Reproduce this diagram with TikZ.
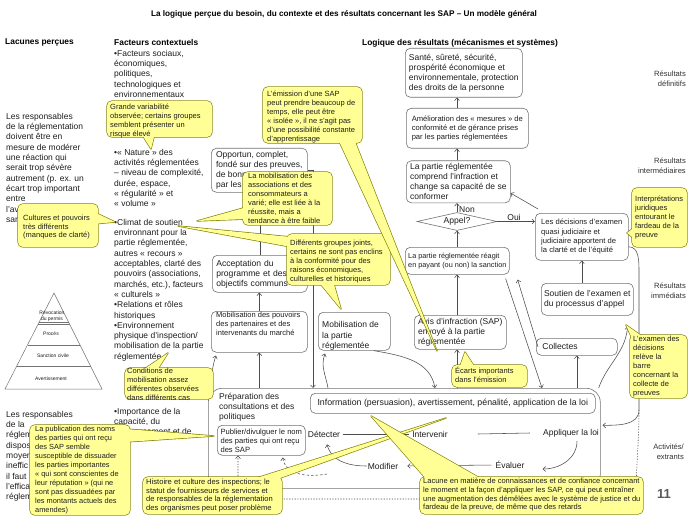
\documentclass[tikz,border=0pt]{standalone}
\usepackage{fontspec}
\setmainfont{Liberation Sans}
\usetikzlibrary{arrows.meta,shapes.geometric,calc}
\definecolor{cyel}{RGB}{255,255,150}
\definecolor{cedge}{RGB}{128,128,0}
\definecolor{bline}{RGB}{115,115,115}
\definecolor{txtc}{RGB}{30,30,30}
\newcommand\myfs[2]{\fontsize{#1}{#2}\selectfont}
\newcommand\callshape[2]{%
  \path[cborder] #1; \path[cborder,sharp corners] #2;
  \path[cfill] #1; \path[cfill,sharp corners] #2;}
\tikzset{
  lbl/.style={inner sep=0pt, anchor=north west, align=left, text=txtc},
  body/.style={lbl, font=\myfs{8.5}{10.3}},
  ctxt/.style={lbl, font=\myfs{7.5}{9}},
  hdr/.style={inner sep=0pt, anchor=west, font=\bfseries\myfs{8.4}{10}, text=black},
  sidelbl/.style={inner sep=0pt, anchor=north east, align=right, font=\myfs{7.6}{9.5}, text=black!80},
  bx/.style={draw=bline, line width=0.6pt, rounded corners=5pt, fill=white, anchor=north west, inner xsep=2pt, inner ysep=0pt, align=left, text=txtc},
  act/.style={inner sep=1pt, font=\myfs{8.5}{10}, text=txtc},
  arr/.style={draw=black!70, line width=0.55pt, -{Straight Barb[length=2.6pt,width=4.8pt]}},
  plainln/.style={draw=black!70, line width=0.55pt},
  dasharr/.style={arr, dash pattern=on 2.5pt off 2pt},
  dotarr/.style={arr, dash pattern=on 1.2pt off 1.5pt},
  cborder/.style={draw=cedge, line width=1.3pt, rounded corners=5pt, line join=round},
  cfill/.style={fill=cyel, rounded corners=5pt},
  pyr/.style={font=\myfs{5}{6}, inner sep=0pt, align=center, text=txtc},
}
\begin{document}
\begin{tikzpicture}[x=1pt,y=-1pt]
\useasboundingbox (0,0) rectangle (688,516);
\fill[white] (0,0) rectangle (688,516);

% ---------- titles ----------
\node[inner sep=0pt, font=\bfseries\myfs{8.2}{10}] (title) at (344,14) {La logique perçue du besoin, du contexte et des résultats concernant les SAP – Un modèle général};
\node[hdr] (hlac) at (5,42) {Lacunes perçues};
\node[hdr] (hfac) at (114,42) {Facteurs contextuels};
\node[hdr] (hlog) at (362,43) {Logique des résultats (mécanismes et systèmes)};

% ---------- side labels ----------
\node[sidelbl] (rdef) at (686,71) {Résultats\\définitifs};
\node[sidelbl] (rint) at (686,158) {Résultats\\intermédiaires};
\node[sidelbl] (rimm) at (686,283) {Résultats\\immédiats};
\node[sidelbl] (ract) at (684,444) {Activités/\\extrants};
\node[inner sep=0pt, font=\bfseries\myfs{13}{13}, text=black!65] (pnum) at (664,494) {11};

% ---------- left column ----------
\node[body] (lt1) at (6,113) {Les responsables\\de la réglementation\\doivent être en\\mesure de modérer\\une réaction qui\\serait trop sévère\\autrement (p. ex. un\\écart trop important\\entre\\l'av\\san};
\node[body] (lt2) at (6,411) {Les responsables\\de la\\réglem\\dispos\\moyen\\ineffic\\il faut\\l'effica\\réglem};

% pyramid
\draw[bline, line width=0.5pt] (54,293) -- (102,389) -- (5,389) -- cycle;
\draw[bline, line width=0.5pt] (39.2,322) -- (68.5,322) (37.9,324.5) -- (69.8,324.5) (27.5,345) -- (80,345) (16.7,366) -- (90.5,366);
\node[pyr] (pyr1) at (52,316) {Révocation\\du permis};
\node[pyr] (pyr2) at (51,333.5) {Procès};
\node[pyr] (pyr3) at (53,356) {Sanction civile};
\node[pyr] (pyr4) at (51,378.5) {Avertissement};

% ---------- context column ----------
\node[body] (fc1) at (114,50) {•Facteurs sociaux,\\économiques,\\politiques,\\technologiques et\\environnementaux};
\node[body] (fc2) at (114,149) {•« Nature » des\\activités réglementées\\– niveau de complexité,\\durée, espace,\\« régularité » et\\« volume »};
\node[body] (fc3) at (114,219) {•Climat de soutien\\environnant pour la\\partie réglementée,\\autres « recours »\\acceptables, clarté des\\pouvoirs (associations,\\marchés, etc.), facteurs\\« culturels »\\•Relations et rôles\\historiques\\•Environnement\\physique d'inspection/\\mobilisation de la partie\\réglementée};
\node[body] (fc4) at (114,408) {•Importance de la\\capacité, du\\ressourcement et de};

% ---------- middle boxes ----------
\node[bx, minimum width=96pt, minimum height=44pt, font=\myfs{8.5}{10}] (opport) at (211,148) {Opportun, complet,\\fondé sur des preuves,\\de bonne\\par les};
\node[bx, minimum width=95pt, minimum height=37pt, inner xsep=4pt, text width=87pt, font=\myfs{8.6}{10}] (accept) at (212,255) {Acceptation du\\programme et des\\objectifs communs};
\node[bx, minimum width=96pt, minimum height=41pt] (mobpouv) at (211,311) {};
\node[lbl, font=\myfs{7.5}{9}] (mobpouvt) at (216,312) {Mobilisation des pouvoirs\\des partenaires et des\\intervenants du marché};
\node[bx, minimum width=72pt, minimum height=38pt] (mobpart) at (318,312) {};
\node[lbl, font=\myfs{8.5}{10.5}] (mobpartt) at (322,321.5) {Mobilisation de\\la partie\\réglementée};

% ---------- right column boxes ----------
\node[bx, minimum width=117pt, minimum height=49pt, font=\myfs{8.5}{10}] (sante) at (405,48) {Santé, sûreté, sécurité,\\prospérité économique et\\environnementale, protection\\des droits de la personne};
\node[bx, minimum width=122pt, minimum height=40pt, font=\myfs{7.6}{9}] (amelio) at (406,108) {Amélioration des « mesures » de\\conformité et de gérance prises\\par les parties réglementées};
\node[bx, minimum width=104pt, minimum height=42pt, font=\myfs{8.5}{10}] (partie) at (406,160.5) {La partie réglementée\\comprend l'infraction et\\change sa capacité de se\\conformer};
\node[diamond, draw=bline, line width=0.6pt, fill=white, aspect=4.7, minimum width=80pt, minimum height=18pt, inner sep=0pt, font=\myfs{8.6}{10}, text=txtc] (appel) at (457,221.5) {Appel?};
\node[bx, minimum width=93pt, minimum height=47pt, font=\myfs{7.6}{9.3}] (decis) at (535,213) {Les décisions d'examen\\quasi judiciaire et\\judiciaire apportent de\\la clarté et de l'équité};
\node[bx, minimum width=104pt, minimum height=27pt, font=\myfs{7.3}{8.6}] (reagit) at (405,247) {La partie réglementée réagit\\en payant (ou non) la sanction};
\node[bx, minimum width=92pt, minimum height=34pt, font=\myfs{8.5}{10}] (avis) at (414,315) {Avis d'infraction (SAP)\\envoyé à la partie\\réglementée};
\node[bx, minimum width=81pt, minimum height=17pt, inner xsep=6pt, text width=69pt, font=\myfs{8.6}{10}] (collect) at (536,338) {Collectes};
\node[bx, minimum width=92pt, minimum height=32pt, font=\myfs{8.5}{9.5}] (soutien) at (541,283) {Soutien de l'examen et\\du processus d'appel};
\node[act] (oui) at (514,217) {Oui};
\node[act] (non) at (467,210) {Non};

% ---------- activities box ----------
\node[bx, minimum width=392pt, minimum height=100pt, rounded corners=14pt] (bigbox) at (208,388) {};
\node[lbl, font=\myfs{8.5}{10}] (prep) at (219,393.5) {Préparation des\\consultations et des\\politiques};
\node[bx, minimum width=285pt, minimum height=20pt, font=\myfs{8.8}{10}] (info) at (310,393) {Information (persuasion), avertissement, pénalité, application de la loi};
\node[bx, minimum width=88pt, minimum height=30pt, font=\myfs{7.6}{9}] (publier) at (217,425) {Publier/divulguer le nom\\des parties qui ont reçu\\des SAP};
\node[act] (detect) at (324,434) {Détecter};
\node[act] (interv) at (430,434) {Intervenir};
\node[act] (appliq) at (571,433) {Appliquer la loi};
\node[act] (modif) at (383,466) {Modifier};
\node[act] (evalu) at (510,465) {Évaluer};

% ---------- connectors ----------
\coordinate (colx) at (457,0);
\draw[arr] (amelio.north -| colx) -- (sante.south -| colx);
\draw[arr] (partie.north -| colx) -- (amelio.south -| colx);
\draw[arr] (appel.north) -- (partie.south -| appel.north);
\draw[arr] (reagit.north -| colx) -- (appel.south);
\draw[arr] (avis.north -| colx) -- (reagit.south -| colx);
\draw[arr] (bigbox.north -| colx) -- (avis.south -| colx);
\draw[arr] (appel.east) -- (decis.west |- appel.east);
\draw[arr] ($(decis.north west)+(3,-4)$) -- ($(partie.south east)+(0,-10)$);
\draw[arr] ($(reagit.south east)+(-4,4)$) -- ($(bigbox.north west)+(334,0)$);
\draw[arr] ($(collect.west)+(2,0)$) -- ($(reagit.south east)+(8,5)$);
\draw[arr] (collect.south |- bigbox.north) -- (collect.south);
\draw[arr] (decis.south |- soutien.north) -- (decis.south);
\draw[arr] ($(bigbox.north east)+(-2,0)$) to[out=70,in=-95] ($(soutien.south east)+(-6,11)$);
\coordinate (rtA) at (639,272);
\coordinate (rtB) at (639,410);
\draw[arr] ($(decis.east)+(0,10)$) to[out=0,in=90] (rtA) -- (rtB) to[out=-90,in=0] ($(bigbox.east)+(2,-13)$);
\coordinate (dtA) at (636,499);
\coordinate (dtB) at (238,499);
\draw[dotarr] (rtB) to[out=-90,in=90] (dtA) -- (dtB) -- (publier.south -| dtB);
\draw[arr] (opport.east) -| ($(bigbox.north west)+(105,0)$);
\draw[arr] (accept.north) -- (opport.south -| accept.north);
\draw[arr] (mobpouv.north) -- (accept.south -| mobpouv.north);
\draw[arr] (mobpouv.south |- bigbox.north) -- (mobpouv.south);
\draw[arr] ($(bigbox.north west)+(2,10)$) to[out=80,in=-110] ($(mobpouv.south west)+(5,3)$);
\draw[arr] ($(bigbox.north west)+(120,0)$) to[out=100,in=-110] ($(mobpart.south west)+(7,3)$);
\draw[arr] ($(mobpart.south east)+(-17,0)$) to[out=-10,in=100] ($(bigbox.north west)+(227,0)$);
\draw[arr] (modif.west) to[out=180,in=-75] ($(detect.south)+(3,6)$);
\coordinate (dsh) at (327,474);
\draw[dasharr] (dsh) to[out=190,in=-80] ($(publier.south east)+(-23,2)$);
\draw[arr, shorten >=8pt, shorten <=3pt] (evalu.west) -- (modif.east);
\draw[arr] ($(appliq.south)+(6,3)$) to[out=-90,in=0] ($(evalu.east)+(17,4)$);
\draw[plainln] ($(detect.east)+(2,0)$) -- ($(interv.west)+(-2,0)$);
\draw[plainln] ($(interv.east)+(29,0)$) -- ($(appliq.west)+(-12,0)$);

% ---------- callouts ----------
\callshape{(107,101) rectangle (212,137)}{(141,133) -- (151,149) -- (155,133) -- cycle}
\node[ctxt] (c1) at (110,103.5) {Grande variabilité\\observée; certains groupes\\semblent présenter un\\risque élevé};

\callshape{(18,204) rectangle (98,247)}{(94,212) -- (115,222) -- (94,224) -- cycle}
\node[ctxt, font=\myfs{7.5}{8.6}] (c2) at (23,215) {Cultures et pouvoirs\\très différents\\(manques de clarté)};

\callshape{(243,172) rectangle (332,225)}{(247,207) -- (197,221) -- (247,219) -- cycle}
\node[ctxt] (c4) at (248,173) {La mobilisation des\\associations et des\\consommateurs a\\varié; elle est liée à la\\réussite, mais a\\tendance à être faible};

\callshape{(287,234) rectangle (390,285)}{(291,237) -- (178,226) -- (291,247) -- cycle (318,281) -- (341,309) -- (333,281) -- cycle}
\node[ctxt] (c5) at (290,240) {Différents groupes joints,\\certains ne sont pas enclins\\à la conformité pour des\\raisons économiques,\\culturelles et historiques};

\callshape{(263,87) rectangle (362,143)}{(338,139) -- (437,351) -- (354,139) -- cycle}
\node[ctxt] (c3) at (267,91) {L'émission d'une SAP\\peut prendre beaucoup de\\temps, elle peut être\\« isolée », il ne s'agit pas\\d'une possibilité constante\\d'apprentissage};

\callshape{(125,368) rectangle (213,399)}{(140,372) -- (168,353) -- (156,372) -- cycle}
\node[ctxt] (c6) at (127,367.5) {Conditions de\\mobilisation assez\\différentes observées\\dans différents cas};

\callshape{(30,425) rectangle (130,515)}{(126,429) -- (214,436) -- (126,442) -- cycle}
\node[ctxt, font=\myfs{7.4}{8.95}] (c7) at (35,426) {La publication des noms\\des parties qui ont reçu\\des SAP semble\\susceptible de dissuader\\les parties importantes\\« qui sont conscientes de\\leur réputation » (qui ne\\sont pas dissuadées par\\les montants actuels des\\amendes)};

\callshape{(143,477) rectangle (282,514)}{(247,481) -- (446,418) -- (272,481) -- cycle}
\node[ctxt, font=\myfs{7.6}{8.6}] (c8) at (146,479) {Histoire et culture des inspections; le\\statut de fournisseurs de services et\\de responsables de la réglementation\\des organismes peut poser problème};

\callshape{(420,477) rectangle (643,514)}{(428,481) -- (371,416) -- (485,481) -- cycle}
\node[ctxt, font=\myfs{7.5}{8.7}] (c9) at (423,478) {Lacune en matière de connaissances et de confiance concernant\\le moment et la façon d'appliquer les SAP, ce qui peut entraîner\\une augmentation des démêlées avec le système de justice et du\\fardeau de la preuve, de même que des retards};

\callshape{(452,365) rectangle (527,387)}{(459,369) -- (465,352) -- (476,369) -- cycle}
\node[ctxt] (c10) at (455,367) {Écarts importants\\dans l'émission};

\callshape{(632,188) rectangle (687,247)}{(636,226) -- (627,233) -- (636,240) -- cycle}
\node[ctxt] (c11) at (635,196) {Interprétations\\juridiques\\entourant le\\fardeau de la\\preuve};

\callshape{(630,335) rectangle (687,398)}{(634,343) -- (626,325) -- (646,339) -- cycle}
\node[ctxt] (c12) at (633,336) {L'examen des\\décisions\\relève la\\barre\\concernant la\\collecte de\\preuves};
\end{tikzpicture}
\end{document}
